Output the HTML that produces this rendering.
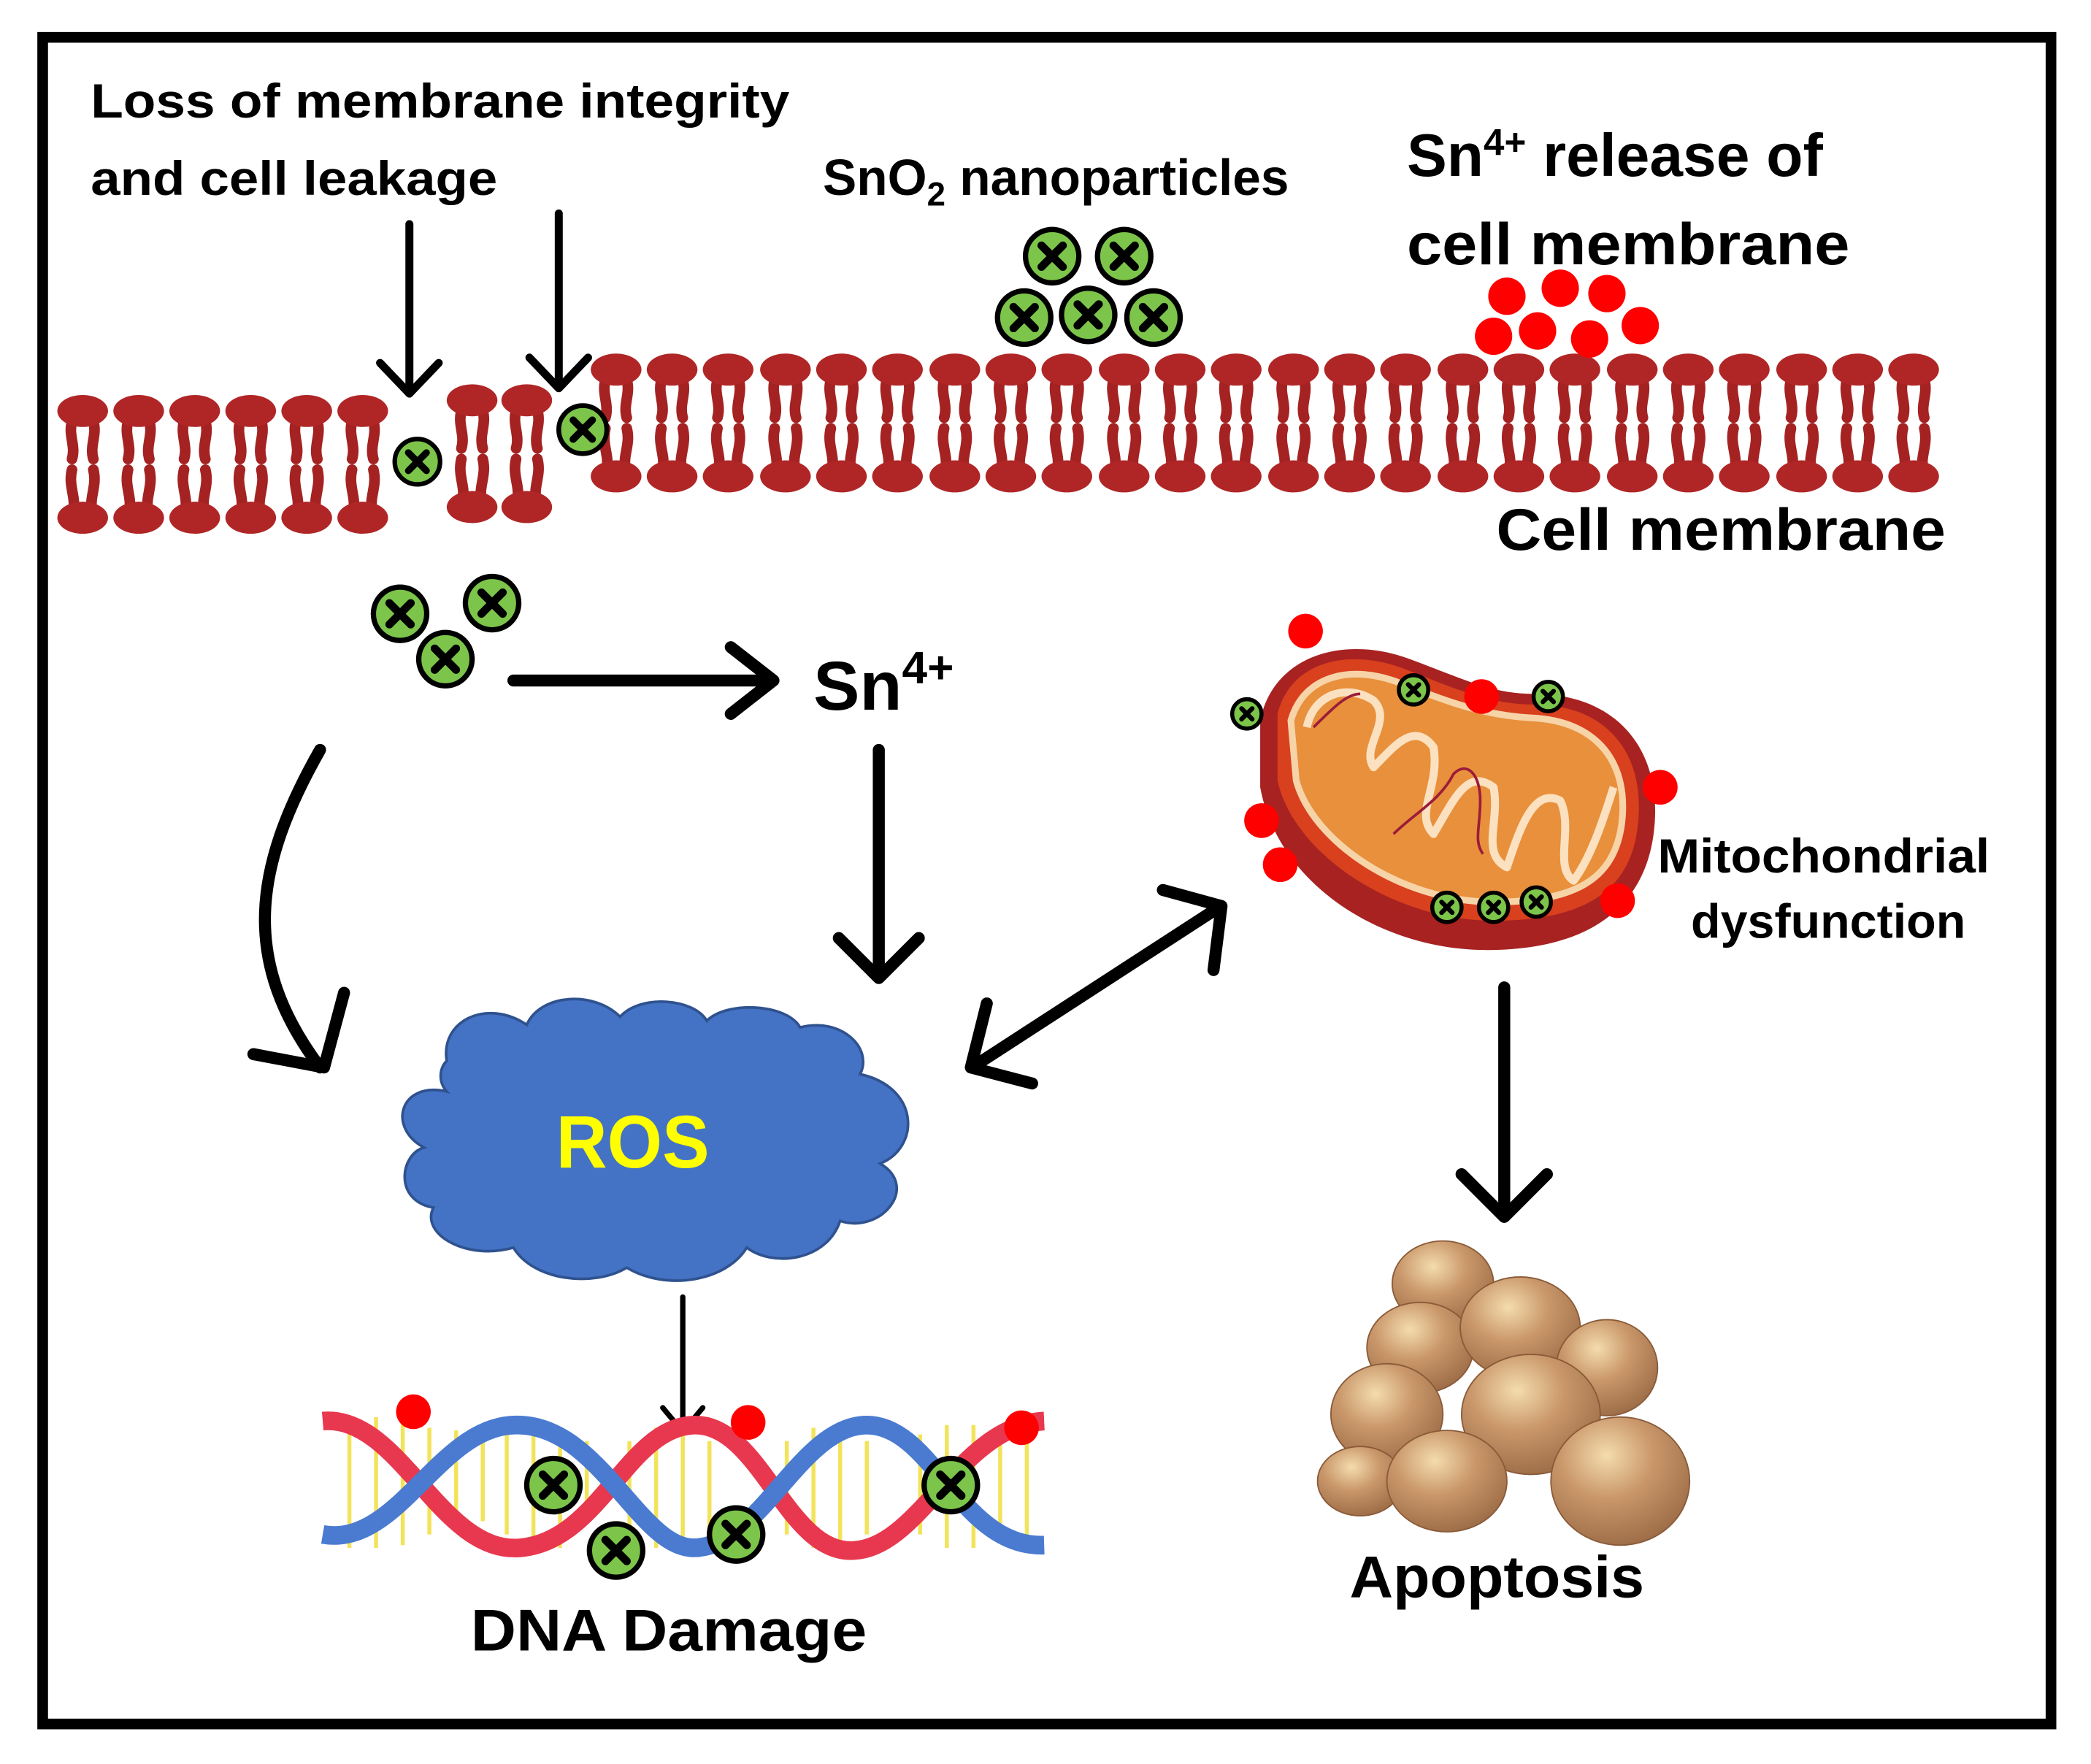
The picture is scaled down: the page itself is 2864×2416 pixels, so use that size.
<!DOCTYPE html>
<html><head><meta charset="utf-8"><style>
html,body{margin:0;padding:0;background:#fff;}
svg{display:block;}
text{font-family:"Liberation Sans",sans-serif;font-weight:bold;fill:#000;}
</style></head><body>
<svg width="2864" height="2416" viewBox="0 0 1568 1322" preserveAspectRatio="none" xmlns="http://www.w3.org/2000/svg">
<defs>
<g id="lip">
 <path d="M-8,8 C-11,18 -5,26 -8,36 M8,8 C11,18 5,26 8,36" stroke="#a52222" stroke-width="8" fill="none" stroke-linecap="round"/>
 <path d="M-8,44 C-11,56 -5,64 -7,74 M8,44 C11,56 5,64 7,74" stroke="#a52222" stroke-width="8" fill="none" stroke-linecap="round"/>
 <ellipse cx="0" cy="0" rx="19" ry="12" fill="#b02626"/>
 <ellipse cx="0" cy="80" rx="19" ry="12" fill="#b02626"/>
</g>
<g id="np">
 <circle r="20" fill="#7cc54a" stroke="#000" stroke-width="4"/>
 <path d="M-8,-8 L8,8 M8,-8 L-8,8" stroke="#000" stroke-width="6" stroke-linecap="round"/>
</g>
<g id="npS">
 <circle r="11" fill="#7cc54a" stroke="#000" stroke-width="3"/>
 <path d="M-4,-4 L4,4 M4,-4 L-4,4" stroke="#000" stroke-width="3.5" stroke-linecap="round"/>
</g>
<radialGradient id="ball" cx="0.4" cy="0.3" r="0.75">
 <stop offset="0" stop-color="#f4dcae"/><stop offset="0.45" stop-color="#c9976a"/><stop offset="1" stop-color="#9a6a45"/>
</radialGradient>
</defs>
<rect width="1568" height="1322" fill="#fff"/>
<rect x="32" y="28" width="1506" height="1264" fill="none" stroke="#000" stroke-width="8"/>

<!-- texts -->
<text x="68" y="88" font-size="36" textLength="524" lengthAdjust="spacingAndGlyphs">Loss of membrane integrity</text>
<text x="68" y="146" font-size="36" textLength="305" lengthAdjust="spacingAndGlyphs">and cell leakage</text>
<text x="617" y="146" font-size="38">SnO<tspan font-size="25" dy="8">2</tspan><tspan dy="-8"> nanoparticles</tspan></text>
<text x="1055" y="132" font-size="45">Sn<tspan font-size="28" dy="-16">4+</tspan><tspan dy="16"> release of</tspan></text>
<text x="1055" y="198" font-size="44" textLength="332" lengthAdjust="spacingAndGlyphs">cell membrane</text>
<text x="1122" y="412" font-size="44" textLength="337" lengthAdjust="spacingAndGlyphs">Cell membrane</text>
<text x="610" y="532" font-size="52">Sn<tspan font-size="34" dy="-20">4+</tspan></text>
<text x="1243" y="654" font-size="36" textLength="249" lengthAdjust="spacingAndGlyphs">Mitochondrial</text>
<text x="1268" y="703" font-size="36" textLength="206" lengthAdjust="spacingAndGlyphs">dysfunction</text>
<text x="353" y="1237" font-size="44" textLength="297" lengthAdjust="spacingAndGlyphs">DNA Damage</text>
<text x="1012" y="1197" font-size="44" textLength="221" lengthAdjust="spacingAndGlyphs">Apoptosis</text>

<!-- membrane left -->
<g>
<use href="#lip" x="62" y="308"/><use href="#lip" x="104" y="308"/><use href="#lip" x="146" y="308"/>
<use href="#lip" x="188" y="308"/><use href="#lip" x="230" y="308"/><use href="#lip" x="272" y="308"/>
<use href="#lip" x="354" y="300"/><use href="#lip" x="395" y="300"/>
</g>
<rect x="420" y="280" width="18" height="120" fill="#fff"/>
<!-- membrane right -->
<g>
<use href="#lip" x="462" y="277"/><use href="#lip" x="504" y="277"/><use href="#lip" x="546" y="277"/><use href="#lip" x="589" y="277"/>
<use href="#lip" x="631" y="277"/><use href="#lip" x="673" y="277"/><use href="#lip" x="716" y="277"/><use href="#lip" x="758" y="277"/>
<use href="#lip" x="800" y="277"/><use href="#lip" x="843" y="277"/><use href="#lip" x="885" y="277"/><use href="#lip" x="927" y="277"/>
<use href="#lip" x="970" y="277"/><use href="#lip" x="1012" y="277"/><use href="#lip" x="1054" y="277"/><use href="#lip" x="1097" y="277"/>
<use href="#lip" x="1139" y="277"/><use href="#lip" x="1181" y="277"/><use href="#lip" x="1224" y="277"/><use href="#lip" x="1266" y="277"/>
<use href="#lip" x="1308" y="277"/><use href="#lip" x="1351" y="277"/><use href="#lip" x="1393" y="277"/><use href="#lip" x="1435" y="277"/>
</g>

<!-- arrows -->
<g stroke="#000" fill="none" stroke-linecap="round" stroke-linejoin="round">
 <path d="M307,168 V293 M285,272 L307,295 L329,272" stroke-width="6"/>
 <path d="M419,160 V290 M397,268 L419,291 L441,268" stroke-width="6"/>
 <path d="M385,510 H578 M548,485 L580,510 L548,535" stroke-width="9"/>
 <path d="M659,562 V732 M629,703 L659,733 L689,703" stroke-width="9"/>
 <path d="M240,562 C190,650 180,720 240,800 M190,790 L243,800 L258,744" stroke-width="9"/>
 <path d="M732,798 L914,680 M872,667 L916,679 L910,727 M740,752 L728,800 L774,812" stroke-width="9"/>
 <path d="M1128,740 V910 M1096,880 L1128,912 L1160,880" stroke-width="9"/>
 <path d="M512,972 V1072 M497,1055 L512,1073 L527,1055" stroke-width="4"/>
</g>

<!-- cloud -->
<path d="M335,795 C330,765 365,748 395,768 C405,745 445,742 465,762 C480,745 520,748 530,765 C545,750 590,752 600,770 C630,762 655,785 645,805 C690,815 690,860 660,872 C690,890 660,925 630,915 C620,945 580,950 560,935 C545,960 500,968 470,950 C445,965 400,960 385,935 C350,945 315,925 325,905 C295,900 300,865 318,860 C290,845 300,810 335,818 C328,810 330,800 335,795 Z" fill="#4472c4" stroke="#2f528f" stroke-width="2"/>
<text x="417" y="875" font-size="56" fill="#ffff00" style="fill:#ffff00" textLength="115" lengthAdjust="spacingAndGlyphs">ROS</text>

<!-- mitochondria -->
<path d="M945,540 C955,490 1010,475 1060,495 C1100,510 1120,520 1150,520 C1215,520 1248,565 1240,625 C1232,685 1185,712 1115,712 C1035,712 958,662 945,590 Z" fill="#a82222"/>
<path d="M958,535 C968,495 1012,485 1055,502 C1095,518 1120,528 1150,528 C1205,528 1235,565 1228,620 C1222,670 1185,690 1120,690 C1045,690 970,640 958,585 Z" fill="#d8401e"/>
<path d="M968,540 C978,505 1015,498 1050,512 C1090,528 1115,536 1148,538 C1198,540 1222,572 1216,618 C1210,660 1180,676 1120,676 C1052,676 985,632 972,585 Z" fill="#e8903c" stroke="#f7d3a8" stroke-width="5"/>
<path d="M980,545 C985,520 1010,512 1030,525 C1045,540 1020,560 1030,575 C1045,560 1060,540 1075,560 C1080,590 1060,610 1075,625 C1090,600 1100,575 1120,590 C1125,615 1110,640 1130,650 C1140,620 1150,590 1170,600 C1180,620 1165,650 1180,660 C1195,640 1205,605 1210,590" fill="none" stroke="#fbe1c0" stroke-width="6" stroke-linejoin="round"/>
<path d="M985,545 C1000,530 1010,520 1020,520 M1045,625 C1060,610 1080,600 1090,580 C1100,570 1110,580 1110,600 C1110,620 1105,630 1112,640" fill="none" stroke="#9c1c3a" stroke-width="2"/>

<!-- DNA -->
<g fill="none">
 <g stroke="#f2e35a" stroke-width="3">
  <path d="M262,1062 V1160 M282,1062 V1160 M302,1065 V1158 M322,1070 V1150 M342,1072 V1148 M362,1080 V1140 M380,1065 V1150 M400,1068 V1160 M420,1070 V1160 M440,1080 V1140 M472,1080 V1150 M492,1070 V1160 M512,1070 V1160 M532,1080 V1150 M590,1080 V1150 M610,1070 V1160 M630,1070 V1160 M650,1080 V1150 M690,1075 V1150 M710,1068 V1160 M730,1068 V1160 M750,1070 V1150 M770,1065 V1160"/>
 </g>
 <path d="M242,1065 C300,1060 330,1165 390,1160 C450,1155 470,1070 520,1068 C570,1066 590,1165 640,1162 C690,1160 720,1068 783,1065" stroke="#e8384f" stroke-width="14"/>
 <path d="M242,1150 C300,1160 330,1065 390,1068 C450,1070 480,1160 520,1160 C570,1160 600,1068 650,1068 C700,1068 720,1160 783,1158" stroke="#4a7bd0" stroke-width="14"/>
</g>

<!-- nanoparticles -->
<use href="#np" x="313" y="346" transform="translate(313 346) scale(0.85) translate(-313 -346)"/>
<use href="#np" x="437" y="322" transform="translate(437 322) scale(0.9) translate(-437 -322)"/>
<use href="#np" x="789" y="192"/><use href="#np" x="843" y="192"/>
<use href="#np" x="768" y="238"/><use href="#np" x="816" y="236"/><use href="#np" x="865" y="238"/>
<use href="#np" x="300" y="460"/><use href="#np" x="369" y="452"/><use href="#np" x="334" y="494"/>
<use href="#npS" x="935" y="535"/><use href="#npS" x="1060" y="517"/><use href="#npS" x="1161" y="522"/>
<use href="#npS" x="1085" y="680"/><use href="#npS" x="1120" y="680"/><use href="#npS" x="1152" y="676"/>
<use href="#np" x="415" y="1113"/><use href="#np" x="462" y="1162"/><use href="#np" x="552" y="1150"/><use href="#np" x="713" y="1113"/>

<!-- red dots -->
<g fill="#ff0000">
 <circle cx="1130" cy="222" r="14"/><circle cx="1170" cy="216" r="14"/><circle cx="1205" cy="220" r="14"/>
 <circle cx="1120" cy="252" r="14"/><circle cx="1153" cy="248" r="14"/><circle cx="1192" cy="254" r="14"/><circle cx="1230" cy="244" r="14"/>
 <circle cx="979" cy="473" r="13"/><circle cx="1111" cy="522" r="13"/><circle cx="1245" cy="590" r="13"/>
 <circle cx="946" cy="615" r="13"/><circle cx="960" cy="648" r="13"/><circle cx="1213" cy="675" r="13"/>
 <circle cx="310" cy="1058" r="13"/><circle cx="561" cy="1066" r="13"/><circle cx="766" cy="1070" r="13"/>
</g>

<!-- apoptosis cluster -->
<g fill="url(#ball)" stroke="#8a5a38" stroke-width="1">
 <ellipse cx="1082" cy="962" rx="38" ry="32"/>
 <ellipse cx="1065" cy="1010" rx="40" ry="34"/>
 <ellipse cx="1140" cy="995" rx="45" ry="38"/>
 <ellipse cx="1205" cy="1025" rx="38" ry="36"/>
 <ellipse cx="1040" cy="1060" rx="42" ry="38"/>
 <ellipse cx="1148" cy="1060" rx="52" ry="45"/>
 <ellipse cx="1020" cy="1110" rx="32" ry="26"/>
 <ellipse cx="1085" cy="1110" rx="45" ry="38"/>
 <ellipse cx="1215" cy="1110" rx="52" ry="48"/>
</g>
</svg>
</body></html>
